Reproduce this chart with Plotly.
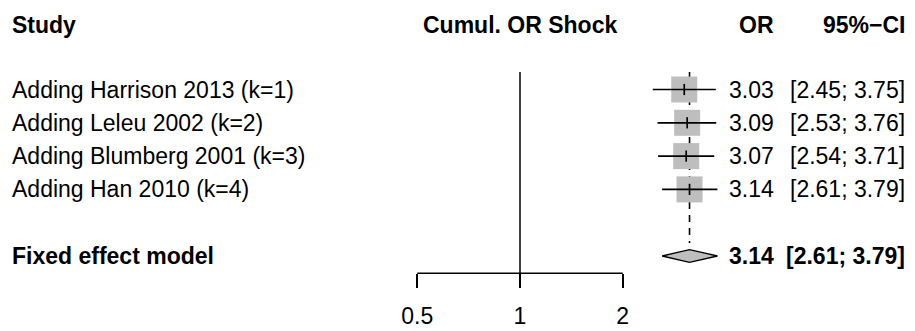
import math
import plotly.graph_objects as go

# Cumulative meta-analysis results (odds ratios with 95% CI)
studies = ["Harrison 2013", "Leleu 2002", "Blumberg 2001", "Han 2010"]
or_est = [3.03, 3.09, 3.07, 3.14]
ci_low = [2.45, 2.53, 2.54, 2.61]
ci_high = [3.75, 3.76, 3.71, 3.79]

fixed_label = "Fixed effect model"
fixed_est = 3.14
fixed_low = 2.61
fixed_high = 3.79

tick_vals = [0.5, 1, 2]
tick_text = ["0.5", "1", "2"]

col_headers = ["Study", "Cumul. OR Shock", "OR", "95%\u2212CI"]

FONT = "Liberation Sans, Arial, Helvetica, sans-serif"
FS = 23
GREY = "#BEBEBE"

W, H = 915, 331
AXIS_PX = 273.3          # vertical pixel position of the x axis
ROW1_PX, ROW_STEP = 89.5, 33.3

rows = [i + 1 for i in range(len(studies))]
fixed_row = len(studies) + 2
header_row = 1 - (ROW1_PX - 24.5) / ROW_STEP
y_top = 1 - ROW1_PX / ROW_STEP
y_bottom = 1 + (AXIS_PX - ROW1_PX) / ROW_STEP
line_top = 1 - (ROW1_PX - 72) / ROW_STEP

fig = go.Figure()

# study squares
fig.add_trace(go.Scatter(
    x=or_est, y=rows, mode="markers",
    marker=dict(symbol="square", size=26, color=GREY, line=dict(width=0)),
    hoverinfo="skip", showlegend=False))

# confidence interval whiskers
for lo, hi, r in zip(ci_low, ci_high, rows):
    fig.add_trace(go.Scatter(
        x=[lo, hi], y=[r, r], mode="lines",
        line=dict(color="black", width=1.7),
        hoverinfo="skip", showlegend=False))

# point-estimate ticks
fig.add_trace(go.Scatter(
    x=or_est, y=rows, mode="markers",
    marker=dict(symbol="line-ns", size=8, line=dict(color="black", width=1.7)),
    hoverinfo="skip", showlegend=False))

# pooled diamond
dh = 0.19
fig.add_trace(go.Scatter(
    x=[fixed_low, fixed_est, fixed_high, fixed_est, fixed_low],
    y=[fixed_row, fixed_row - dh, fixed_row, fixed_row + dh, fixed_row],
    mode="lines", fill="toself", fillcolor=GREY,
    line=dict(color="black", width=1.3),
    hoverinfo="skip", showlegend=False))

shapes = [
    # line of no effect
    dict(type="line", xref="x", yref="y", x0=1, x1=1, y0=line_top, y1=y_bottom,
         line=dict(color="black", width=1.5), layer="below"),
    # pooled estimate reference
    dict(type="line", xref="x", yref="y", x0=fixed_est, x1=fixed_est,
         y0=line_top, y1=fixed_row - dh - 0.2,
         line=dict(color="black", width=1.6, dash="7px,6px"), layer="below"),
    # x axis baseline between outer ticks
    dict(type="line", xref="x", yref="y domain", x0=tick_vals[0], x1=tick_vals[-1],
         y0=0, y1=0, line=dict(color="black", width=1.5)),
]

ann = []
def txt(x, y, s, anchor, bold=False):
    ann.append(dict(
        x=x / W, xref="paper", y=y, yref="y", text=f"<b>{s}</b>" if bold else s,
        xanchor=anchor, yanchor="middle", showarrow=False,
        font=dict(family=FONT, size=FS, color="black")))

LEFT_X, OR_X, CI_X, MID_X = 10, 776, 907, 520

# column headers
txt(LEFT_X, header_row, col_headers[0], "left", True)
txt(MID_X, header_row, col_headers[1], "center", True)
txt(OR_X, header_row, col_headers[2], "right", True)
txt(CI_X, header_row, col_headers[3], "right", True)

# study rows
for k, (s, e, lo, hi, r) in enumerate(zip(studies, or_est, ci_low, ci_high, rows), start=1):
    txt(LEFT_X, r, f"Adding {s} (k={k})", "left")
    txt(OR_X, r, f"{e:.2f}", "right")
    txt(CI_X, r, f"[{lo:.2f}; {hi:.2f}]", "right")

# pooled row
txt(LEFT_X, fixed_row, fixed_label, "left", True)
txt(OR_X, fixed_row, f"{fixed_est:.2f}", "right", True)
txt(CI_X, fixed_row, f"[{fixed_low:.2f}; {fixed_high:.2f}]", "right", True)

# log x axis scaled so that 0.5 -> 417.3px and 2 -> 622.7px
px_per_dec = (622.7 - 417.3) / (math.log10(2) - math.log10(0.5))
x0 = math.log10(0.5) - 417.3 / px_per_dec
x1 = x0 + W / px_per_dec

fig.update_layout(
    width=W, height=H,
    margin=dict(l=0, r=0, t=0, b=0),
    paper_bgcolor="white", plot_bgcolor="white",
    font=dict(family=FONT, size=FS, color="black"),
    shapes=shapes, annotations=ann,
    xaxis=dict(type="log", range=[x0, x1], showgrid=False, zeroline=False,
               showline=False, tickmode="array", tickvals=tick_vals, ticktext=tick_text,
               ticks="outside", ticklen=14, tickwidth=1.5, tickcolor="black",
               ticklabelstandoff=8,
               tickfont=dict(family=FONT, size=FS, color="black")),
    yaxis=dict(range=[y_bottom, y_top], domain=[(H - AXIS_PX) / H, 1],
               visible=False, showgrid=False, zeroline=False),
)

fig.write_html("out.html")
